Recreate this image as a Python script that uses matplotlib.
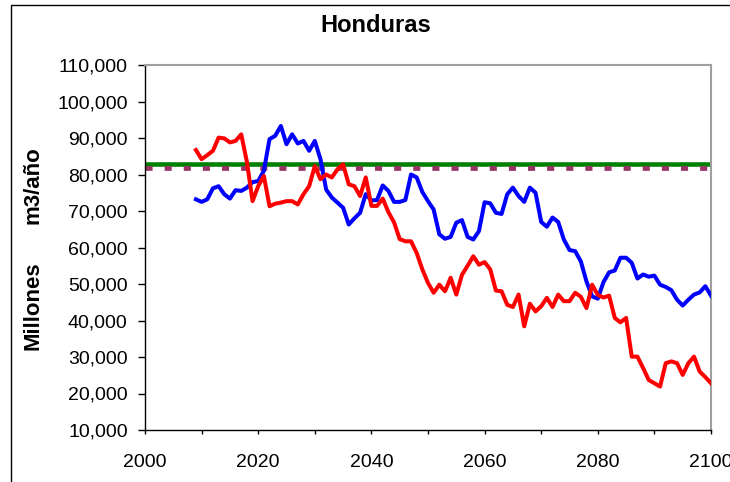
import matplotlib
matplotlib.use("Agg")
import matplotlib.pyplot as plt
from matplotlib.patches import Rectangle
from matplotlib.ticker import FuncFormatter, MultipleLocator

plt.rcParams["font.family"] = ["Liberation Sans", "DejaVu Sans"]

# annual series, thousands of millions m3/year
years = list(range(2009, 2101))

red_vals = [
    86.7, 84.2, 85.3, 86.5, 90.1, 89.9, 88.8, 89.2, 91.0, 83.5,
    72.7, 76.8, 79.6, 71.3, 72.0, 72.3, 72.7, 72.7, 71.8, 74.6,
    76.8, 82.3, 78.7, 80.0, 79.2, 81.4, 82.8, 77.3, 76.8, 74.1,
    79.2, 71.4, 71.4, 73.4, 69.7, 66.9, 62.3, 61.7, 61.7, 58.5,
    54.0, 50.3, 47.6, 49.8, 48.0, 51.7, 47.1, 52.5, 55.0, 57.6,
    55.3, 56.0, 54.0, 48.2, 48.0, 44.3, 43.7, 47.1, 38.4, 44.6,
    42.5, 43.9, 46.2, 43.7, 47.1, 45.3, 45.3, 47.6, 46.5, 43.4,
    49.8, 47.0, 46.3, 46.8, 40.7, 39.5, 40.7, 30.1, 30.1, 27.0,
    23.7, 22.8, 21.9, 28.3, 28.8, 28.3, 25.1, 28.3, 30.1, 26.0,
    24.5, 22.8,
]

blue_vals = [
    73.2, 72.5, 73.2, 76.2, 76.8, 74.6, 73.4, 75.7, 75.5, 76.4,
    77.9, 78.2, 81.0, 89.7, 90.6, 93.3, 88.3, 91.0, 88.5, 89.2,
    86.5, 89.2, 84.2, 75.9, 73.7, 72.3, 70.9, 66.3, 68.0, 69.5,
    74.6, 72.9, 73.0, 77.0, 75.5, 72.5, 72.5, 73.0, 80.0, 79.2,
    75.2, 72.7, 70.4, 63.6, 62.4, 62.9, 66.8, 67.5, 62.9, 62.2,
    64.5, 72.4, 72.1, 69.5, 69.2, 74.6, 76.4, 74.1, 72.5, 76.4,
    75.0, 67.0, 65.7, 68.2, 67.0, 62.2, 59.3, 59.0, 56.2, 50.7,
    46.6, 46.0, 50.5, 53.2, 53.7, 57.2, 57.2, 55.8, 51.5, 52.6,
    52.0, 52.3, 49.8, 49.2, 48.3, 45.7, 44.1, 45.7, 47.1, 47.7,
    49.4, 46.8,
]

green_level = 83.0
purple_level = 81.8
x_range = [2000, 2100]

red = [v * 1000 for v in red_vals]
blue = [v * 1000 for v in blue_vals]

fig = plt.figure(figsize=(7.3, 4.82), dpi=100)
ax = fig.add_axes([145 / 730, 1 - 430 / 482, (711 - 145) / 730, (430 - 65) / 482])

# outer chart frame (cut on the right and bottom)
fig.patches.append(Rectangle((11 / 730, -0.1), 1.2, 1.1 - 5 / 482, transform=fig.transFigure,
                             fill=False, edgecolor="black", linewidth=1.0))

ax.plot(x_range, [green_level * 1000] * 2, color="#008000", linewidth=3.3, solid_capstyle="butt", zorder=2)
ax.plot(x_range, [purple_level * 1000] * 2, color="#993366", linewidth=3.4,
        dashes=(1.5, 2.55), dash_capstyle="butt", zorder=2)
ax.plot(years, blue, color="#0000FF", linewidth=2.9, zorder=3)
ax.plot(years, red, color="#FF0000", linewidth=2.9, zorder=3)

ax.set_xlim(2000, 2100)
ax.set_ylim(10000, 110000)
ax.xaxis.set_major_locator(MultipleLocator(20))
ax.xaxis.set_minor_locator(MultipleLocator(10))
ax.yaxis.set_major_locator(MultipleLocator(10000))
ax.yaxis.set_major_formatter(FuncFormatter(lambda v, p: f"{int(v):,}"))
ax.tick_params(axis="both", which="both", direction="out", width=1, color="black", labelsize=14)
ax.tick_params(axis="x", which="both", length=3, pad=14)
ax.tick_params(axis="y", length=5, pad=7.5)

for side in ("top", "right"):
    ax.spines[side].set_color("#A0A0A0")
    ax.spines[side].set_linewidth(1.5)
for side in ("left", "bottom"):
    ax.spines[side].set_color("black")
    ax.spines[side].set_linewidth(1.0)

fig.text(376 / 730, 1 - 25 / 482, "Honduras", ha="center", va="center", fontsize=17, fontweight="bold")
fig.text(33 / 730, 1 - 306 / 482, "Millones", ha="center", va="center", rotation=90,
         fontsize=16, fontweight="bold")
fig.text(33 / 730, 1 - 185 / 482, "m3/año", ha="center", va="center", rotation=90,
         fontsize=16, fontweight="bold")

fig.savefig("out.png", dpi=100)
